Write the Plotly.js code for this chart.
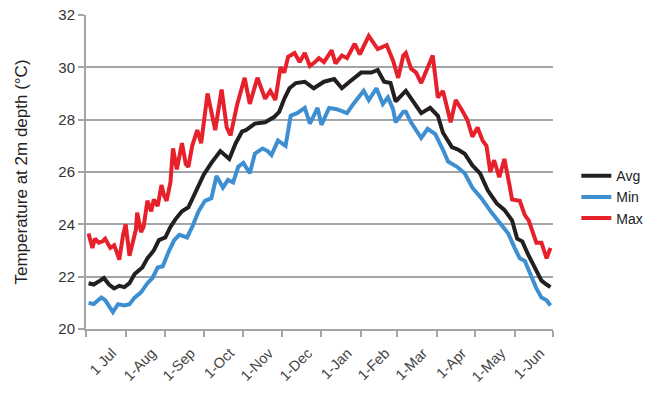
<!DOCTYPE html>
<html>
<head>
<meta charset="utf-8">
<script src="https://cdn.plot.ly/plotly-3.0.1.min.js"></script>
<style>
  html, body { margin: 0; padding: 0; background: #fff; }
  #chart { width: 660px; height: 413px; }
</style>
</head>
<body>
<div id="chart"></div>
<script>
// day index from 1 Jul, temperature in °C
const maxDays = [2,5,7,10,13,15,19,22,24,26,29,31,34,37,39,40,43,45,48,51,53,56,59,61,63,66,68,71,73,75,78,80,83,87,90,95,101,106,110,113,118,124,128,134,140,144,148,152,155,158,163,167,171,175,179,182,186,192,195,200,204,210,214,221,228,235,240,244,248,250,254,258,262,266,271,275,279,285,289,294,298,302,306,310,313,316,319,323,327,331,333,339,343,346,349,352,356,360,363];
const maxTemp = [23.65,23.1,23.45,23.3,23.35,23.45,23.1,23.2,22.95,22.65,23.6,24.0,22.8,23.4,23.8,24.45,23.7,23.9,24.9,24.5,24.95,24.7,25.5,25.1,24.9,25.6,26.9,26.1,26.7,27.1,26.3,26.2,27.0,27.6,27.1,29.0,27.6,29.15,27.7,27.4,28.55,29.6,28.6,29.6,28.8,29.1,28.75,30.0,29.8,30.4,30.55,30.2,30.55,30.05,30.2,30.35,30.2,30.65,30.15,30.45,30.35,30.9,30.5,31.2,30.7,30.85,30.25,29.6,30.45,30.55,29.95,29.8,29.4,29.9,30.45,28.85,29.1,27.9,28.75,28.35,28.0,27.35,27.7,27.2,27.0,26.0,26.45,25.8,26.5,25.5,24.95,24.9,24.35,24.15,23.7,23.3,23.3,22.7,23.1];

const avgDays = [2,6,11,14,18,22,26,30,34,38,44,48,53,57,62,66,70,75,80,86,92,98,105,112,117,122,125,132,140,147,151,155,159,164,171,178,186,194,200,206,215,223,228,233,238,242,248,250,255,262,269,275,279,286,291,296,302,308,314,321,327,333,337,341,346,352,356,360,363];
const avgTemp = [21.75,21.7,21.85,21.95,21.7,21.55,21.65,21.6,21.75,22.1,22.35,22.7,23.0,23.4,23.5,23.9,24.2,24.5,24.65,25.3,25.9,26.35,26.8,26.5,27.1,27.55,27.6,27.85,27.9,28.1,28.3,28.8,29.2,29.4,29.45,29.2,29.45,29.55,29.2,29.45,29.8,29.8,29.9,29.45,29.4,28.7,29.0,29.1,28.75,28.25,28.45,28.15,27.5,26.95,26.85,26.7,26.25,25.95,25.3,24.8,24.55,24.15,23.45,23.35,22.8,22.25,21.85,21.7,21.6];

const minDays = [2,6,12,15,21,25,30,34,38,43,48,52,56,60,65,69,73,79,83,88,93,98,102,107,111,115,119,123,128,132,138,142,145,150,156,160,165,171,175,181,184,190,196,204,209,217,221,227,232,236,240,242,248,250,254,262,267,273,279,283,290,296,302,309,317,323,330,335,339,343,348,352,356,360,363];
const minTemp = [21.0,20.95,21.2,21.1,20.65,20.95,20.9,20.95,21.2,21.4,21.75,21.95,22.35,22.4,23.0,23.4,23.6,23.5,23.9,24.5,24.9,25.0,25.85,25.4,25.7,25.6,26.2,26.35,25.95,26.7,26.9,26.8,26.65,27.2,27.0,28.15,28.25,28.45,27.85,28.45,27.8,28.45,28.4,28.25,28.6,29.1,28.75,29.2,28.6,28.85,28.4,27.9,28.3,28.3,27.9,27.3,27.65,27.45,26.85,26.4,26.2,25.95,25.4,25.0,24.45,24.1,23.65,23.1,22.7,22.6,22.0,21.55,21.2,21.1,20.9];

// month boundaries (days from 1 Jul) and labels
const monthStarts = [0,31,62,92,123,153,184,215,243,274,304,335,365];
const monthLabels = ['1 Jul','1-Aug','1-Sep','1-Oct','1-Nov','1-Dec','1-Jan','1-Feb','1-Mar','1-Apr','1-May','1-Jun'];
// labels sit a little right of each month's middle, as in the original
const labelPos = monthLabels.map((_, i) => (monthStarts[i] + monthStarts[i + 1]) / 2 + 5);

const GRID = '#a2a6aa';
const FONT = 'Liberation Sans, Arial, sans-serif';

const traces = [
  { name: 'Avg', x: avgDays, y: avgTemp, color: '#231f20' },
  { name: 'Min', x: minDays, y: minTemp, color: '#3d8fd1' },
  { name: 'Max', x: maxDays, y: maxTemp, color: '#e6212b' },
].map(s => ({
  x: s.x, y: s.y, name: s.name,
  type: 'scatter', mode: 'lines',
  line: { color: s.color, width: 4 },
}));

Plotly.newPlot('chart', traces, {
  width: 660, height: 413,
  margin: { l: 86, r: 101, t: 15, b: 84 },
  paper_bgcolor: '#fff', plot_bgcolor: '#fff',
  font: { family: FONT, color: '#333', size: 14 },
  showlegend: true,
  legend: {
    x: 1.05, xanchor: 'left', y: 0.42, yanchor: 'middle',
    font: { size: 14, color: '#222' }, tracegroupgap: 0,
  },
  xaxis: {
    range: [0, 365],
    tickmode: 'array', tickvals: labelPos, ticktext: monthLabels,
    tickangle: -45, ticks: '', ticklabelstandoff: 8,
    tickfont: { size: 14.5, color: '#444' },
    showgrid: false, zeroline: false,
    showline: true, linecolor: GRID, linewidth: 2,
    minor: { tickmode: 'array', tickvals: monthStarts, ticks: 'outside', ticklen: 6, tickwidth: 2, tickcolor: GRID, showgrid: false },
  },
  yaxis: {
    range: [20, 32], dtick: 2,
    ticks: 'outside', ticklen: 6, tickwidth: 2, tickcolor: GRID,
    showgrid: true, gridcolor: GRID, gridwidth: 2,
    showline: true, linecolor: GRID, linewidth: 2, zeroline: false,
    tickfont: { size: 15, color: '#333' },
    title: { text: 'Temperature at 2m depth (°C)', font: { size: 17, color: '#222' }, standoff: 26 },
  },
}, { displayModeBar: false });
</script>
</body>
</html>
